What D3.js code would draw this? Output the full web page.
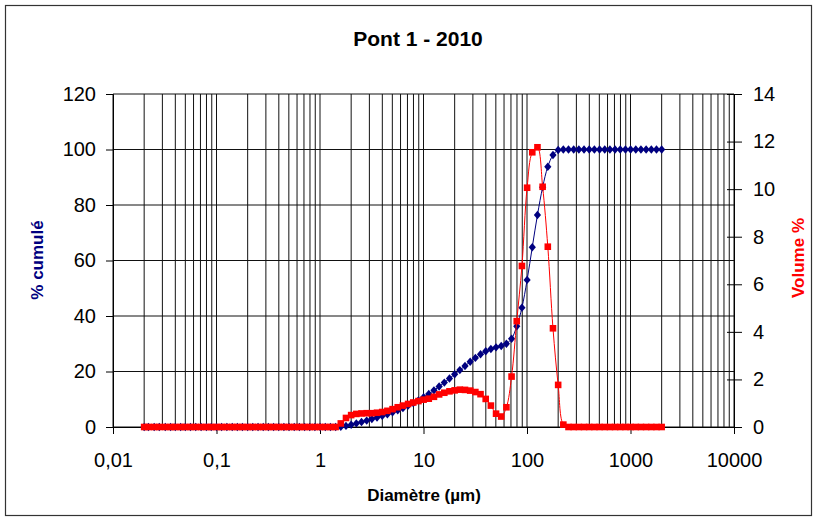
<!DOCTYPE html>
<html>
<head>
<meta charset="utf-8">
<script src="https://cdn.jsdelivr.net/npm/d3@7"></script>
<style>
  body { margin: 0; background: #fff; }
  svg { font-family: Arial, "Liberation Sans", sans-serif; }
</style>
</head>
<body>
<div></div>
<script>
var width = 815, height = 519;

// particle sizes (µm), Mastersizer classes
var diametres = [0.020, 0.022, 0.025, 0.028, 0.032, 0.036, 0.040, 0.045, 0.050, 0.056,
  0.063, 0.071, 0.080, 0.089, 0.100, 0.112, 0.126, 0.142, 0.159, 0.178,
  0.200, 0.224, 0.252, 0.283, 0.317, 0.356, 0.399, 0.448, 0.502, 0.564,
  0.632, 0.710, 0.796, 0.893, 1.002, 1.125, 1.262, 1.416, 1.589, 1.783,
  2.000, 2.244, 2.518, 2.825, 3.170, 3.557, 3.991, 4.477, 5.024, 5.637,
  6.325, 7.096, 7.962, 8.934, 10.024, 11.247, 12.619, 14.159, 15.887, 17.825,
  20.000, 22.440, 25.179, 28.251, 31.698, 35.566, 39.905, 44.774, 50.238, 56.368,
  63.246, 70.963, 79.621, 89.337, 100.237, 112.468, 126.191, 141.589, 158.866, 178.250,
  200.000, 224.404, 251.785, 282.508, 316.979, 355.656, 399.052, 447.744, 502.377, 563.677,
  632.456, 709.627, 796.214, 893.367, 1002.374, 1124.683, 1261.915, 1415.892, 1588.656, 1782.502,
  2000.000];

// % cumulé (left axis)
var cumule = [0, 0, 0, 0, 0, 0, 0, 0, 0, 0,
  0, 0, 0, 0, 0, 0, 0, 0, 0, 0,
  0, 0, 0, 0, 0, 0, 0, 0, 0, 0,
  0, 0, 0, 0, 0, 0, 0, 0, 0.1, 0.4,
  0.8, 1.3, 1.8, 2.3, 2.9, 3.4, 4.0, 4.6, 5.3, 6.0,
  6.8, 7.7, 8.6, 9.6, 10.7, 11.9, 13.2, 14.6, 16.0, 17.5,
  19.0, 20.5, 22.0, 23.5, 24.9, 26.2, 27.3, 28.1, 28.7, 29.2,
  30.0, 31.8, 36.3, 43.0, 53.0, 64.8, 76.4, 86.4, 93.8, 98.0,
  99.8, 100, 100, 100, 100, 100, 100, 100, 100, 100,
  100, 100, 100, 100, 100, 100, 100, 100, 100, 100,
  100];

// Volume % (right axis)
var volume = [0, 0, 0, 0, 0, 0, 0, 0, 0, 0,
  0, 0, 0, 0, 0, 0, 0, 0, 0, 0,
  0, 0, 0, 0, 0, 0, 0, 0, 0, 0,
  0, 0, 0, 0, 0, 0, 0, 0, 0.15, 0.38,
  0.50, 0.55, 0.57, 0.58, 0.58, 0.60, 0.63, 0.68, 0.75, 0.83,
  0.90, 0.97, 1.03, 1.09, 1.15, 1.19, 1.27, 1.37, 1.44, 1.50,
  1.54, 1.57, 1.56, 1.53, 1.47, 1.38, 1.18, 0.90, 0.56, 0.44,
  0.83, 2.12, 4.45, 6.77, 10.06, 11.55, 11.76, 10.10, 7.58, 4.15,
  1.77, 0.10, 0, 0, 0, 0, 0, 0, 0, 0,
  0, 0, 0, 0, 0, 0, 0, 0, 0, 0,
  0];

var xTicks = [0.01, 0.1, 1, 10, 100, 1000, 10000];
var yLeftTicks = [0, 20, 40, 60, 80, 100, 120];
var yRightTicks = [0, 2, 4, 6, 8, 10, 12, 14];

var margin = {top: 94, right: 81, bottom: 92, left: 113};

var frLocale = d3.formatLocale({decimal: ",", thousands: "", grouping: [3], currency: ["", ""]});
var fmt = frLocale.format("~g");

var svg = d3.select("div").append("svg")
    .attr("width", width)
    .attr("height", height);

// outer frame
svg.append("rect")
    .attr("x", 5.5).attr("y", 5.5)
    .attr("width", 806).attr("height", 510)
    .attr("fill", "#fff")
    .attr("stroke", "#333")
    .attr("stroke-width", 1.2);

var x = d3.scaleLog()
    .domain([0.01, 10000])
    .range([margin.left, width - margin.right]);

var yL = d3.scaleLinear()
    .domain([0, 120])
    .range([height - margin.bottom, margin.top]);

var yR = d3.scaleLinear()
    .domain([0, 14])
    .range([height - margin.bottom, margin.top]);

// grid
var grid = svg.append("g").attr("class", "grid");
grid.selectAll(".vx")
    .data(x.ticks())
  .enter().append("line")
    .attr("x1", function(d) { return x(d); })
    .attr("x2", function(d) { return x(d); })
    .attr("y1", yL(120))
    .attr("y2", yL(0))
    .attr("stroke", "#111")
    .attr("stroke-width", 1);

grid.selectAll(".hy")
    .data(yLeftTicks)
  .enter().append("line")
    .attr("x1", x(0.01))
    .attr("x2", x(10000))
    .attr("y1", function(d) { return yL(d); })
    .attr("y2", function(d) { return yL(d); })
    .attr("stroke", "#111")
    .attr("stroke-width", 1);

// axes
var xAxis = svg.append("g")
    .attr("transform", "translate(0," + yL(0) + ")")
    .call(d3.axisBottom(x).tickValues(xTicks).tickFormat(fmt).tickSizeOuter(0).tickSize(7).tickPadding(19));

var leftAxis = svg.append("g")
    .attr("transform", "translate(" + x(0.01) + ",0)")
    .call(d3.axisLeft(yL).tickValues(yLeftTicks).tickSizeOuter(0).tickSize(7).tickPadding(10));

var rightAxis = svg.append("g")
    .attr("transform", "translate(" + x(10000) + ",0)")
    .call(d3.axisRight(yR).tickValues(yRightTicks).tickSizeOuter(0).tickSize(8).tickPadding(11));
rightAxis.selectAll(".tick line").attr("x1", -7);

[xAxis, leftAxis, rightAxis].forEach(function(a) {
  a.selectAll("text").style("font-size", "20px").attr("fill", "#000");
  a.selectAll("line").attr("stroke", "#000");
  a.select(".domain").attr("stroke", "#000");
});

// lines
var pts = diametres.map(function(d, i) { return {d: d, c: cumule[i], v: volume[i]}; });

var lineC = d3.line()
    .x(function(p) { return x(p.d); })
    .y(function(p) { return yL(p.c); })
    .curve(d3.curveCatmullRom.alpha(0.5));

var lineV = d3.line()
    .x(function(p) { return x(p.d); })
    .y(function(p) { return yR(p.v); })
    .curve(d3.curveCatmullRom.alpha(0.5));

svg.append("path")
    .datum(pts)
    .attr("d", lineC)
    .attr("fill", "none")
    .attr("stroke", "#000080")
    .attr("stroke-width", 1);

svg.append("g").selectAll("path")
    .data(pts)
  .enter().append("path")
    .attr("transform", function(p) { return "translate(" + x(p.d) + "," + yL(p.c) + ")"; })
    .attr("d", "M0,-4.2L3.6,0L0,4.2L-3.6,0Z")
    .attr("fill", "#000080");

svg.append("path")
    .datum(pts)
    .attr("d", lineV)
    .attr("fill", "none")
    .attr("stroke", "#FF0000")
    .attr("stroke-width", 1);

svg.append("g").selectAll("rect")
    .data(pts)
  .enter().append("rect")
    .attr("x", function(p) { return x(p.d) - 3.3; })
    .attr("y", function(p) { return yR(p.v) - 3.3; })
    .attr("width", 6.6)
    .attr("height", 6.6)
    .attr("fill", "#FF0000");

// titles
svg.append("text")
    .attr("x", 418).attr("y", 46)
    .attr("text-anchor", "middle")
    .style("font-size", "21px").style("font-weight", "bold")
    .text("Pont 1 - 2010");

svg.append("text")
    .attr("x", 424).attr("y", 501)
    .attr("text-anchor", "middle")
    .style("font-size", "17px").style("font-weight", "bold")
    .text("Diamètre (µm)");

svg.append("text")
    .attr("transform", "translate(43,260) rotate(-90)")
    .attr("text-anchor", "middle")
    .attr("fill", "#000080")
    .style("font-size", "17px").style("font-weight", "bold")
    .text("% cumulé");

svg.append("text")
    .attr("transform", "translate(804,258) rotate(-90)")
    .attr("text-anchor", "middle")
    .attr("fill", "#FF0000")
    .style("font-size", "17px").style("font-weight", "bold")
    .text("Volume %");
</script>
</body>
</html>
